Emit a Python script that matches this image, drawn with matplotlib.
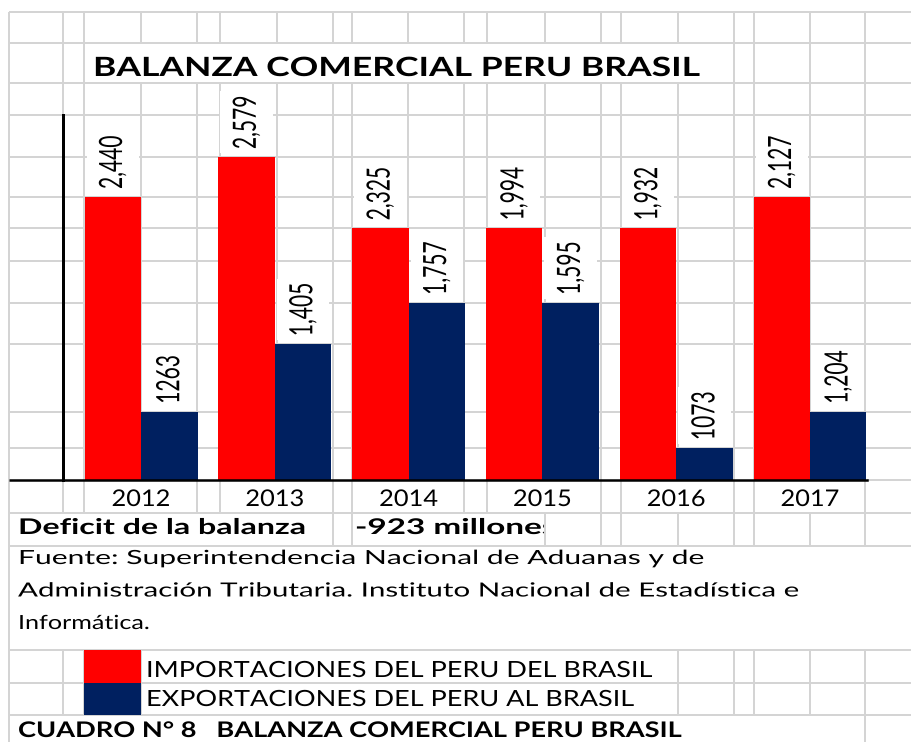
import numpy as np
import matplotlib
matplotlib.use("Agg")
import matplotlib.pyplot as plt
from matplotlib.patches import Rectangle
from matplotlib.patheffects import AbstractPathEffect
from matplotlib.transforms import Affine2D, IdentityTransform

# ---------------- data ----------------
years = ["2012", "2013", "2014", "2015", "2016", "2017"]
imp_labels = ["2,440", "2,579", "2,325", "1,994", "1,932", "2,127"]
exp_labels = ["1263", "1,405", "1,757", "1,595", "1073", "1,204"]
# bar lengths as drawn in the source sheet (they are not proportional to the labels)
imp_bar = [2260, 2579, 2010, 2010, 2010, 2260]
exp_bar = [545, 1085, 1415, 1415, 255, 545]
title = "BALANZA COMERCIAL PERU BRASIL"
deficit_label = "Deficit de la balanza"
deficit_value = "-923 millones"
source_lines = ["Fuente: Superintendencia Nacional de Aduanas y de",
                "Administración Tributaria. Instituto Nacional de Estadística e",
                "Informática."]
legend_labels = ["IMPORTACIONES DEL PERU DEL BRASIL",
                 "EXPORTACIONES DEL PERU AL BRASIL"]
caption = "CUADRO N° 8   BALANZA COMERCIAL PERU BRASIL"

# ---------------- style ----------------
RED = "#ff0000"
NAVY = "#002060"
GRID = "#d4d4d4"
FONT = "Lato"
W, H = 912, 742


def pt(px):
    return px * 72.0 / 100.0


class HStretch(AbstractPathEffect):
    """Stretch glyph outlines horizontally (the source sheet is widened)."""

    def __init__(self, sx=1.0, anchor="left"):
        super().__init__()
        self.sx = sx
        self.anchor = anchor

    def draw_path(self, renderer, gc, tpath, affine, rgbFace=None):
        if self.anchor == "left":
            x0 = affine.get_matrix()[0, 2]
        else:
            ext = tpath.get_extents(affine)
            x0 = 0.5 * (ext.x0 + ext.x1)
        t = affine + Affine2D().translate(-x0, 0).scale(self.sx, 1).translate(x0, 0)
        renderer.draw_path(gc, tpath, t, rgbFace)


fig = plt.figure(figsize=(W / 100, H / 100), dpi=100)
fig.patch.set_facecolor("white")

# background: spreadsheet grid in pixel coordinates
bg = fig.add_axes([0, 0, 1, 1])
bg.set_xlim(0, W)
bg.set_ylim(H, 0)
bg.axis("off")

glw = pt(2)
cols = [9, 63, 84, 141, 197, 220, 277, 333, 352, 408, 464, 487, 545, 601,
        621, 678, 734, 754, 810, 865]
rows = [12, 43, 83, 115, 157, 197, 228, 261, 303, 344, 412, 448, 480, 513,
        546, 650, 683, 715]
for y in rows:
    if y == 480:
        bg.hlines(y, 867, W, color=GRID, lw=glw)
    else:
        bg.hlines(y, 9, W, color=GRID, lw=glw)
bands = [(12, 43, cols),
         (43, 83, [9, 63, 84, 734, 754, 810, 865]),
         (83, 480, cols),
         (480, 513, [9, 63, 84, 197, 220, 333, 352, 464, 487, 601, 621, 734, 754, 865]),
         (513, 546, [9, 333, 352, 545, 601, 621, 678, 734, 754, 810, 865]),
         (546, 650, [9]),
         (650, 715, [9, 63, 84, 141, 678, 734, 754, 810, 865]),
         (715, H, [9, 865])]
for y0, y1, cs in bands:
    bg.vlines(cs, y0, y1, color=GRID, lw=glw)
bg.hlines(480, 9, 64, color="black", lw=pt(2.5))

# ---------------- chart axes ----------------
ax = fig.add_axes([63 / W, (H - 480) / H, (867 - 63) / W, (480 - 115) / H])
ax.patch.set_alpha(0)
step = 133.8
x = np.arange(len(years))
w = 56.5 / step
ax.set_xlim((63 - 141) / step, (867 - 141) / step)
ax.set_ylim(0, 2915)
b1 = ax.bar(x - w / 2, imp_bar, width=w, color=RED, linewidth=0)
b2 = ax.bar(x + w / 2, exp_bar, width=w, color=NAVY, linewidth=0)
for s in ["top", "right"]:
    ax.spines[s].set_visible(False)
ax.spines["left"].set_linewidth(pt(3))
ax.spines["bottom"].set_linewidth(pt(2.5))
ax.spines["left"].set_color("black")
ax.spines["bottom"].set_color("black")
ax.set_yticks([])
ax.set_xticks(x, years)
ax.tick_params(axis="x", length=0, pad=pt(9))
for lbl in ax.get_xticklabels():
    lbl.set_fontfamily(FONT)
    lbl.set_fontsize(pt(23))

labels = []
for bars, labs in ((b1, imp_labels), (b2, exp_labels)):
    for rect, s in zip(bars, labs):
        t = ax.annotate(s, (rect.get_x() + rect.get_width() / 2, rect.get_height()),
                        xytext=(0, 8), textcoords="offset pixels", rotation=90,
                        ha="center", va="bottom", fontsize=pt(21), family=FONT,
                        color="black", zorder=4)
        t.set_path_effects([HStretch(23 / (0.7165 * 21), "center")])
        labels.append((rect, t))

# ---------------- sheet texts ----------------
texts = []  # (text, target width px)
t_title = bg.text(93, 76, title, fontsize=pt(26.5), fontweight="bold",
                  family=FONT, va="baseline")
texts.append((t_title, 607))
t_def = bg.text(18, 534, deficit_label, fontsize=pt(21.6), fontweight="bold",
                family=FONT, va="baseline")
texts.append((t_def, 289))
t_val = bg.text(355, 534, deficit_value, fontsize=pt(21.6), fontweight="bold",
                family=FONT, va="baseline", clip_on=True)
clip = Rectangle((352, 513), 192, 33, transform=bg.transData)
t_val.set_clip_path(clip)
src_targets = [687, 782, 132]
for i, (line, tw) in enumerate(zip(source_lines, src_targets)):
    t = bg.text(18, 564 + 32.5 * i, line, fontsize=pt(19.5), family=FONT,
                va="baseline")
    texts.append((t, tw))
leg_colors = [RED, NAVY]
leg_rows = [(650, 33, 677), (683, 32, 706)]
leg_targets = [504, 486]
for lab, col, (ry, rh, base), tw in zip(legend_labels, leg_colors, leg_rows, leg_targets):
    bg.add_patch(Rectangle((84, ry), 57, rh, facecolor=col, edgecolor="none", zorder=3))
    t = bg.text(146, base, lab, fontsize=pt(22.3), family=FONT, va="baseline")
    texts.append((t, tw))
t_cap = bg.text(18, 737, caption, fontsize=pt(21.5), fontweight="bold",
                family=FONT, va="baseline")
texts.append((t_cap, 665))

# measure natural widths, then widen to match the sheet
fig.canvas.draw()
r = fig.canvas.get_renderer()
for t, tw in texts:
    nat = t.get_window_extent(r).width
    t.set_path_effects([HStretch(tw / nat, "left")])
def_sx = 289 / t_def.get_window_extent(r).width
t_val.set_path_effects([HStretch(def_sx * 1.035, "left")])
for lbl in ax.get_xticklabels():
    nat = lbl.get_window_extent(r).width
    if nat > 0:
        lbl.set_path_effects([HStretch(59 / nat, "center")])

# white label boxes hiding the sheet grid behind the data labels
for rect, t in labels:
    bb = t.get_window_extent(r)
    pb = rect.get_window_extent(r)
    box = Rectangle((pb.x0 + 2, bb.y0 - 4), pb.width - 4, bb.height + 8,
                    transform=IdentityTransform(), facecolor="white",
                    edgecolor="none", zorder=2.5, clip_on=False)
    ax.add_artist(box)

fig.savefig("out.png", dpi=100, facecolor="white")
